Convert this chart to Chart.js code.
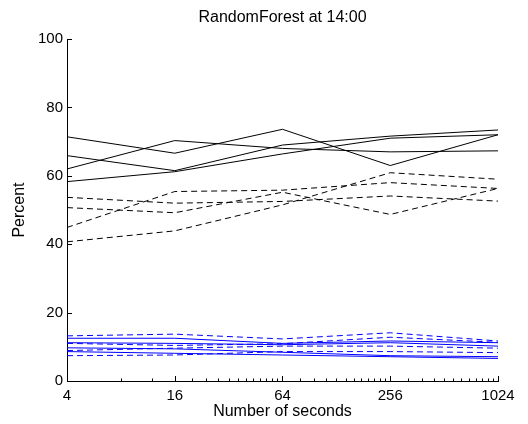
<!DOCTYPE html>
<html>
<head>
<meta charset="utf-8">
<script src="https://cdn.jsdelivr.net/npm/chart.js@4/dist/chart.umd.min.js"></script>
<style>
  body { margin: 0; background: #fff; }
  #wrap { width: 528px; height: 424px; }
</style>
</head>
<body>
<div id="wrap"><canvas id="rf-chart" width="528" height="424"></canvas></div>
<script>
// seconds (x) and tick labels
var seconds = [4, 16, 64, 256, 1024];
var xMajor = [4, 16, 64, 256, 1024];
var xMinor = [8, 12, 20, 24, 28, 32, 36, 40, 44, 48, 52, 56, 60,
  80, 96, 112, 128, 144, 160, 176, 192, 208, 224, 240,
  320, 384, 448, 512, 576, 640, 704, 768, 832, 896, 960];
var yTicks = [0, 20, 40, 60, 80, 100];
var chartTitle = 'RandomForest at 14:00';

// upper group, black
var blackSolid1 = [71.4, 66.6, 73.6, 63.0, 72.0];
var blackSolid2 = [62.0, 70.3, 68.0, 67.0, 67.3];
var blackSolid3 = [65.9, 61.5, 69.0, 71.6, 73.4];
var blackSolid4 = [58.3, 61.2, 66.4, 71.0, 72.0];
var blackDash1 = [53.7, 52.0, 52.5, 54.1, 52.6];
var blackDash2 = [50.7, 49.2, 55.2, 48.7, 56.3];
var blackDash3 = [44.9, 55.4, 55.8, 58.0, 56.3];
var blackDash4 = [40.7, 43.9, 51.5, 60.9, 59.0];

// lower group, blue
var blueSolid1 = [12.5, 12.5, 11.0, 11.7, 11.2];
var blueSolid2 = [11.2, 11.0, 10.6, 11.2, 10.2];
var blueSolid3 = [9.7, 9.4, 8.4, 7.4, 7.1];
var blueSolid4 = [8.6, 8.1, 7.6, 7.1, 6.6];
var blueDash1 = [13.2, 13.7, 12.3, 14.1, 11.7];
var blueDash2 = [11.0, 10.4, 10.9, 12.8, 11.3];
var blueDash3 = [8.9, 9.6, 10.2, 10.2, 9.6];
var blueDash4 = [7.4, 7.6, 8.6, 8.6, 8.3];

function series(vals, color, dashed) {
	return {
		data: seconds.map(function (s, i) { return { x: s, y: vals[i] }; }),
		borderColor: color,
		borderWidth: 1,
		borderDash: dashed ? [6, 4] : [],
		pointRadius: 0,
		tension: 0,
		fill: false
	};
}

// matlab style ticks pointing into the plot, title centred over the axes
var innerTicks = {
	id: 'innerTicks',
	afterDraw: function (chart) {
		var ctx = chart.ctx, area = chart.chartArea;
		var x = chart.scales.x, y = chart.scales.y;
		ctx.save();
		ctx.strokeStyle = '#000';
		ctx.lineWidth = 1;
		ctx.beginPath();
		xMajor.forEach(function (v) {
			var px = Math.round(x.getPixelForValue(v)) + 0.5;
			ctx.moveTo(px, area.bottom); ctx.lineTo(px, area.bottom - 5);
		});
		xMinor.forEach(function (v) {
			var px = Math.round(x.getPixelForValue(v)) + 0.5;
			ctx.moveTo(px, area.bottom); ctx.lineTo(px, area.bottom - 2.5);
		});
		yTicks.forEach(function (v) {
			var py = Math.round(y.getPixelForValue(v)) + 0.5;
			ctx.moveTo(area.left, py); ctx.lineTo(area.left + 5, py);
		});
		ctx.stroke();

		ctx.fillStyle = '#000';
		ctx.font = '16px "Liberation Sans", Arial, sans-serif';
		ctx.textAlign = 'center';
		ctx.textBaseline = 'middle';
		ctx.fillText(chartTitle, (area.left + area.right) / 2, 18);
		ctx.restore();
	}
};

Chart.defaults.font.family = '"Liberation Sans", Arial, sans-serif';
Chart.defaults.font.size = 15;
Chart.defaults.color = '#000';

new Chart(document.getElementById('rf-chart'), {
	type: 'line',
	data: {
		datasets: [
			series(blackSolid1, '#000000', false),
			series(blackSolid2, '#000000', false),
			series(blackSolid3, '#000000', false),
			series(blackSolid4, '#000000', false),
			series(blackDash1, '#000000', true),
			series(blackDash2, '#000000', true),
			series(blackDash3, '#000000', true),
			series(blackDash4, '#000000', true),
			series(blueSolid1, '#0000ff', false),
			series(blueSolid2, '#0000ff', false),
			series(blueSolid3, '#0000ff', false),
			series(blueSolid4, '#0000ff', false),
			series(blueDash1, '#0000ff', true),
			series(blueDash2, '#0000ff', true),
			series(blueDash3, '#0000ff', true),
			series(blueDash4, '#0000ff', true)
		]
	},
	options: {
		responsive: false,
		animation: false,
		layout: { padding: { left: 0, right: 30, top: 39, bottom: 0 } },
		plugins: {
			legend: { display: false },
			tooltip: { enabled: false },
			title: { display: false }
		},
		scales: {
			x: {
				type: 'logarithmic',
				min: 4,
				max: 1024,
				grid: { display: false, drawTicks: false },
				border: { display: true, color: '#000', width: 1 },
				ticks: {
					padding: 6,
					autoSkip: false,
					maxRotation: 0,
					font: { size: 15 },
					callback: function (v) { return String(v); }
				},
				afterBuildTicks: function (s) {
					s.ticks = xMajor.map(function (v) { return { value: v }; });
				},
				afterFit: function (s) { s.height = 43; },
				title: {
					display: true,
					text: 'Number of seconds',
					font: { size: 16 },
					padding: { top: 0, bottom: 2.4 }
				}
			},
			y: {
				min: 0,
				max: 100,
				grid: { display: false, drawTicks: false },
				border: { display: true, color: '#000', width: 1 },
				ticks: { stepSize: 20, padding: 4, font: { size: 15 } },
				afterBuildTicks: function (s) {
					s.ticks = yTicks.map(function (v) { return { value: v }; });
				},
				afterFit: function (s) { s.width = 67; },
				title: {
					display: true,
					text: 'Percent',
					font: { size: 16 },
					padding: { top: 10.4, bottom: 0 }
				}
			}
		}
	},
	plugins: [innerTicks]
});
</script>
</body>
</html>
